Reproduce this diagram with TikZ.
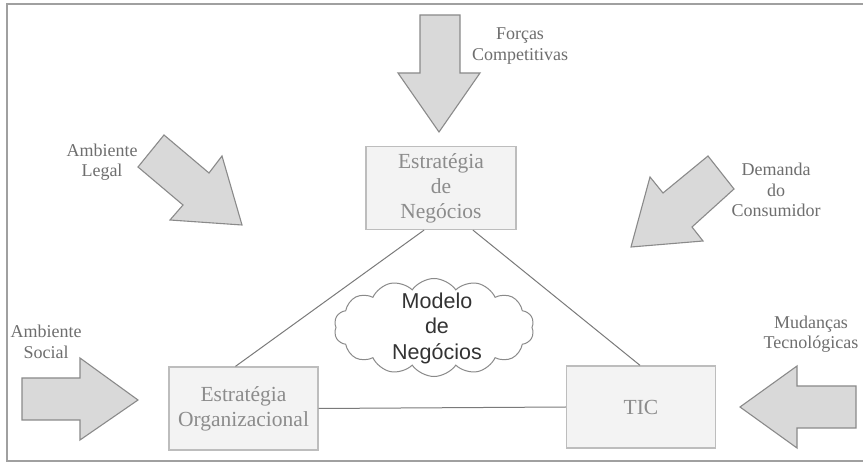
\documentclass[tikz,border=0pt]{standalone}
\usepackage{fontspec}
\setmainfont{Liberation Serif}
\newfontfamily\cloudfont{Liberation Sans}
\usetikzlibrary{shapes.symbols}
\definecolor{arrowfill}{HTML}{D9D9D9}
\definecolor{arrowline}{HTML}{8A8A8A}
\definecolor{boxfill}{HTML}{F3F3F3}
\definecolor{boxline}{HTML}{BDBDBD}
\definecolor{boxtext}{HTML}{8C8C8C}
\definecolor{labeltext}{HTML}{6E6E6E}
\definecolor{linkline}{HTML}{7A7A7A}
\definecolor{frameline}{HTML}{A0A0A0}
\begin{document}
\begin{tikzpicture}[x=1pt,y=-1pt,
  bigarrow/.style={fill=arrowfill,draw=arrowline,line width=1.1pt,line join=miter},
  stratbox/.style={draw=boxline,fill=boxfill,line width=1.3pt,minimum width=150pt,minimum height=83pt,inner sep=0pt,align=center,text=boxtext,font=\fontsize{21.5}{25}\selectfont},
  forcelabel/.style={align=center,text=labeltext,font=\fontsize{18}{20.5}\selectfont,inner sep=0pt},
  link/.style={draw=linkline,line width=1pt},
  cloudbox/.style={cloud,cloud puffs=14,cloud puff arc=110,draw=arrowline,line width=1pt,fill=white,minimum width=200pt,minimum height=98pt,aspect=2.1,inner sep=0pt},
  cloudtext/.style={align=center,text=black!80,font=\cloudfont\fontsize{21.5}{25.5}\selectfont,inner sep=0pt}]
\fill[white] (0,0) rectangle (863,462);
\useasboundingbox (0,0) rectangle (863,462);
% frame
\draw[frameline,line width=1.5pt] (863,4) -- (7,4) -- (7,461) -- (863,461);

% boxes
\node[stratbox] (en) at (441,188) {Estratégia\\de\\Negócios};
\node[stratbox,minimum width=149pt] (org) at (243.5,408.5) {Estratégia\\Organizacional};
\node[stratbox,minimum width=149pt,minimum height=82pt] (tic) at (641,407) {TIC};

% links
\draw[link] ([xshift=-17pt]en.south) -- ([xshift=-8pt]org.north);
\draw[link] ([xshift=32pt]en.south) -- ([xshift=-1pt]tic.north);
\draw[link] (org.east) -- (tic.west);

% cloud
\node[cloudbox] (cloud) at (434,327.5) {};
\node[cloudtext] (modelo) at (437,328) {Modelo\\de\\Negócios};

% force arrows
\draw[bigarrow] (420,15) -- (460,15) -- (460,73) -- (480,73) -- (439,132) -- (398,73) -- (420,73) -- cycle;
\draw[bigarrow] (164,135) -- (209,173) -- (222,156) -- (242,225) -- (170,220) -- (183,205) -- (138,167) -- cycle;
\draw[bigarrow] (708,156) -- (734,189) -- (692,227) -- (703,241) -- (631,247) -- (650,177) -- (663,193) -- cycle;
\draw[bigarrow] (22,378) -- (80,378) -- (80,358) -- (138,400) -- (80,440) -- (80,420) -- (22,420) -- cycle;
\draw[bigarrow] (856,386) -- (797,386) -- (797,366) -- (740,407) -- (797,448) -- (797,428) -- (856,428) -- cycle;

% labels
\node[forcelabel] (lforcas) at (520,46) {Forças\\Competitivas};
\node[forcelabel] (llegal) at (102,162) {Ambiente\\Legal};
\node[forcelabel] (ldemanda) at (776,190) {Demanda\\do\\Consumidor};
\node[forcelabel] (lsocial) at (46,342) {Ambiente\\Social};
\node[forcelabel] (lmudancas) at (811,334) {Mudanças\\Tecnológicas};
\end{tikzpicture}
\end{document}
